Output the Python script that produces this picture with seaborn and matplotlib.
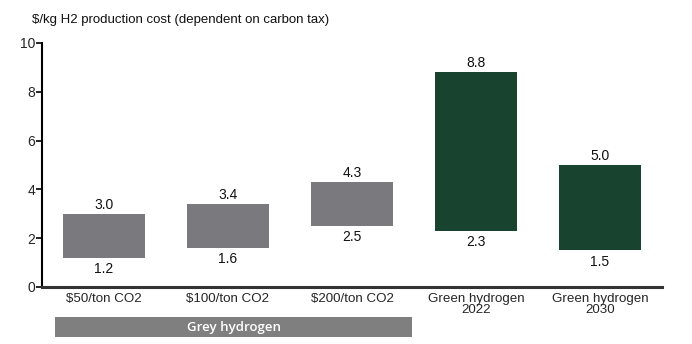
import matplotlib
matplotlib.use("Agg")
import matplotlib.pyplot as plt
import matplotlib.transforms as mtransforms
import seaborn as sns
import pandas as pd

categories = ["$50/ton CO2", "$100/ton CO2", "$200/ton CO2", "Green hydrogen\n2022", "Green hydrogen\n2030"]
low = [1.2, 1.6, 2.5, 2.3, 1.5]
high = [3.0, 3.4, 4.3, 8.8, 5.0]
groups = ["grey", "grey", "grey", "green", "green"]
yticks = [0, 2, 4, 6, 8, 10]
title = "$/kg H2 production cost (dependent on carbon tax)"
band_label = "Grey hydrogen"

colors = {"grey": "#7a797e", "green": "#17432f"}

df = pd.DataFrame({"category": categories, "low": low, "high": high, "group": groups})
df["span"] = df["high"] - df["low"]

sns.set_theme(style="white")
plt.rcParams["font.family"] = ["Liberation Sans", "DejaVu Sans"]

fig = plt.figure(figsize=(6.92, 3.44), dpi=100)
ax = fig.add_axes([42 / 692, 57 / 344, 620 / 692, 244 / 344])

sns.barplot(data=df, x="category", y="span", hue="category",
            palette=[colors[g] for g in groups], width=0.66, legend=False,
            saturation=1, ax=ax, linewidth=0)

# float each bar so it spans from low to high
for p in ax.patches:
    idx = int(round(p.get_x() + p.get_width() / 2))
    p.set_y(low[idx])
    p.set_height(high[idx] - low[idx])

ax.set_xlim(-0.5, 4.5)
ax.set_ylim(0, 10)
ax.set_yticks(yticks)
ax.set_yticklabels([str(t) for t in yticks], fontsize=10)
ax.set_xlabel("")
ax.set_ylabel("")
ax.tick_params(axis="x", length=0, labelsize=9.6, pad=4)
ax.tick_params(axis="y", length=4, width=1.2, color="black", labelsize=10, pad=1, left=True)
for lab in ax.get_xticklabels():
    lab.set_linespacing(0.9)

for s in ["top", "right"]:
    ax.spines[s].set_visible(False)
ax.spines["left"].set_color("black")
ax.spines["left"].set_linewidth(1.5)
ax.spines["bottom"].set_color("#333333")
ax.spines["bottom"].set_linewidth(2.2)

for i, (lo, hi) in enumerate(zip(low, high)):
    ax.annotate(f"{hi:.1f}", (i, hi), xytext=(0, 1.5), textcoords="offset points",
                ha="center", va="bottom", fontsize=10, color="#111111")
    ax.annotate(f"{lo:.1f}", (i, lo), xytext=(0, -3), textcoords="offset points",
                ha="center", va="top", fontsize=10, color="#111111")

trans = mtransforms.blended_transform_factory(ax.transData, ax.transAxes)
band = plt.Rectangle((-0.395, -0.205), 2.879, 0.082, transform=trans,
                     facecolor="#7f7f7f", edgecolor="none", clip_on=False)
ax.add_patch(band)
ax.text((-0.395 + 2.484) / 2, -0.164, band_label, transform=trans, ha="center", va="center",
        color="white", fontsize=9.5, fontweight="semibold", family=["Open Sans", "DejaVu Sans"])

fig.text(32 / 692, 1 - 20 / 344, title, ha="left", va="center", fontsize=9.5, color="#111111")

fig.savefig("out.png", dpi=100, facecolor="white")
